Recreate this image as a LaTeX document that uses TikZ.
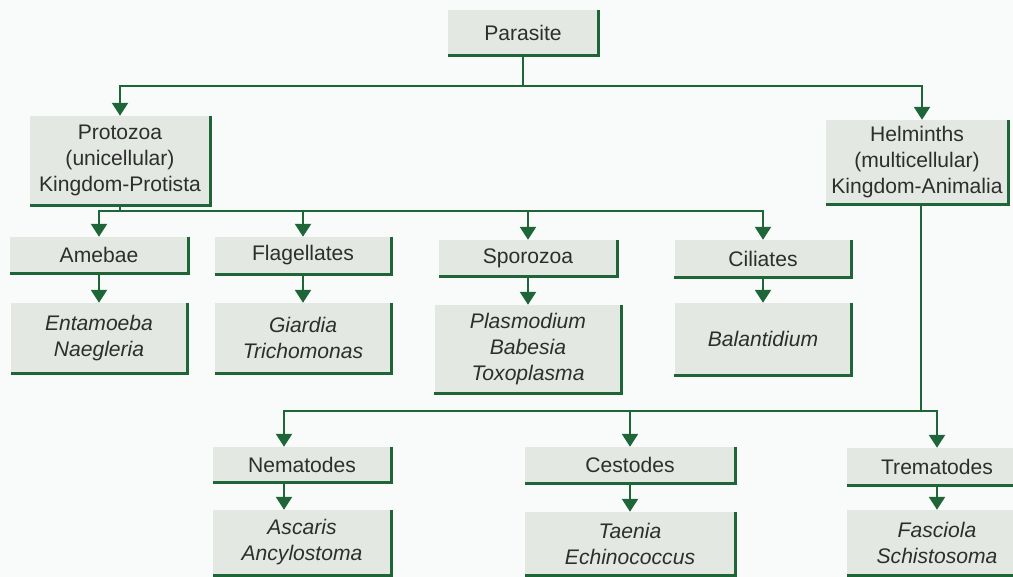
\documentclass[tikz,border=0pt]{standalone}
\usepackage{fontspec}
\setmainfont{Liberation Sans}
\usetikzlibrary{calc}
\usetikzlibrary{arrows.meta}
\definecolor{boxfill}{RGB}{227,232,226}
\definecolor{darkgreen}{RGB}{30,102,56}
\definecolor{paper}{RGB}{249,251,251}

\begin{document}
\begin{tikzpicture}[x=0.025cm,y=-0.025cm,
    box/.style={fill=boxfill,inner sep=0pt,align=center,text=black!82,
      font=\fontsize{15}{18.5}\selectfont},
    species/.style={box,font=\fontsize{15}{18.5}\selectfont\itshape},
    boxsize/.style 2 args={minimum width=#1*0.025cm,minimum height=#2*0.025cm},
    link/.style={darkgreen,line width=1.4pt},
    arr/.style={link,-{Triangle[width=0.4cm,length=0.32cm]}},
    rim/.style={darkgreen,line width=2.2pt}]
  \useasboundingbox[fill=paper] (0,0) rectangle (1013,577);

  % top levels
  \node[box,boxsize={150}{45}] (Parasite) at (523,32.5) {Parasite};
  \node[box,boxsize={180}{89}] (Protozoa) at (120,160.5)
    {Protozoa\\(unicellular)\\Kingdom-Protista};
  \node[box,boxsize={182}{84}] (Helminths) at (917,162)
    {Helminths\\(multicellular)\\Kingdom-Animalia};

  % protozoa groups
  \node[box,boxsize={178}{36}] (Amebae) at (99,255) {Amebae};
  \node[box,boxsize={176}{37}] (Flagellates) at (303,255.5) {Flagellates};
  \node[box,boxsize={178}{36}] (Sporozoa) at (528,258) {Sporozoa};
  \node[box,boxsize={177}{37}] (Ciliates) at (763,258.5) {Ciliates};
  \node[species,boxsize={176}{70}] (Entamoeba) at (99,338) {Entamoeba\\Naegleria};
  \node[species,boxsize={176}{70}] (Giardia) at (303,338) {Giardia\\Trichomonas};
  \node[species,boxsize={187}{88}] (Plasmodium) at (528,349)
    {Plasmodium\\Babesia\\Toxoplasma};
  \node[species,boxsize={177}{72}] (Balantidium) at (763,339) {Balantidium};

  % helminth groups
  \node[box,boxsize={178}{35}] (Nematodes) at (302,464.5) {Nematodes};
  \node[box,boxsize={210}{36}] (Cestodes) at (630,465) {Cestodes};
  \node[box,boxsize={180}{37}] (Trematodes) at (937,466.5) {Trematodes};
  \node[species,boxsize={178}{65}] (Ascaris) at (302,542.5) {Ascaris\\Ancylostoma};
  \node[species,boxsize={210}{63}] (Taenia) at (630,543.5) {Taenia\\Echinococcus};
  \node[species,boxsize={180}{65}] (Fasciola) at (937,542.5) {Fasciola\\Schistosoma};

  \foreach \n in {Parasite,Protozoa,Helminths,Amebae,Flagellates,Sporozoa,Ciliates,
      Entamoeba,Giardia,Plasmodium,Balantidium,Nematodes,Cestodes,Trematodes,
      Ascaris,Taenia,Fasciola}
    \draw[rim] (\n.north east) -- (\n.south east) -- (\n.south west);

  % connectors
  \coordinate (pj) at (523,86);
  \draw[link] (Parasite.south) -- (pj);
  \draw[arr] (pj) -| (Protozoa.north);
  \draw[arr] (pj) -| ($(Helminths.north)+(5,0)$);

  \coordinate (pz) at (120,211);
  \draw[link] (Protozoa.south) -- (pz);
  \foreach \n in {Amebae,Flagellates,Sporozoa,Ciliates}
    \draw[arr] (pz) -| (\n.north);

  \coordinate (hj) at (921,411);
  \draw[link] ($(Helminths.south)+(4,0)$) -- (hj);
  \draw[arr] (hj) -| ($(Nematodes.north)+(-18,0)$);
  \draw[arr] (hj) -| (Cestodes.north);
  \draw[arr] (hj) -| (Trematodes.north);

  \foreach \a/\b in {Amebae/Entamoeba,Flagellates/Giardia,Sporozoa/Plasmodium,
      Ciliates/Balantidium,Cestodes/Taenia,Trematodes/Fasciola}
    \draw[arr] (\a.south) -- (\b.north);
  \draw[arr] ($(Nematodes.south)+(-18,0)$) -- ($(Ascaris.north)+(-18,0)$);
\end{tikzpicture}
\end{document}
